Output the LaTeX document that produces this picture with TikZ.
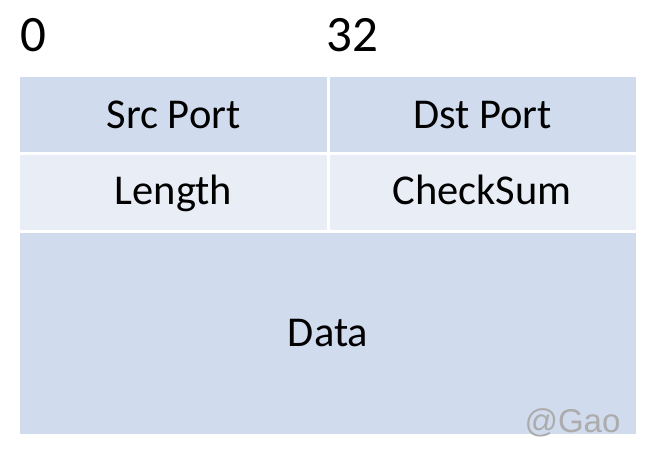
\documentclass[tikz,border=0pt]{standalone}
\usepackage{fontspec}
\setmainfont{Carlito}
\newfontfamily\wmfont{Liberation Sans}
\definecolor{cellA}{RGB}{208,219,238}
\definecolor{cellB}{RGB}{233,238,246}
\definecolor{wmgray}{RGB}{172,172,172}
\begin{document}
\begin{tikzpicture}[x=1pt,y=-1pt,
  cell/.style={draw=none,inner sep=0pt,font=\fontsize{42.5}{50}\selectfont},
  lbl/.style={inner sep=0pt,anchor=base west,font=\fontsize{51}{60}\selectfont}]
\useasboundingbox (0,0) rectangle (661,465);
\fill[cellA] (20,77) rectangle (327,152);
\fill[cellA] (330,77) rectangle (636,152);
\fill[cellB] (20,155) rectangle (327,229.5);
\fill[cellB] (330,155) rectangle (636,229.5);
\fill[cellA] (20,232.5) rectangle (636,433.5);
\node[lbl] (n0) at (20.5,52) {0};
\node[lbl] (n32) at (326.5,52) {32};
\node[cell,anchor=base] (src) at (173.5,128.5) {Src Port};
\node[cell,anchor=base] (dst) at (482.5,128.5) {Dst Port};
\node[cell,anchor=base] (len) at (173.5,204.5) {Length};
\node[cell,anchor=base] (chk) at (482,204.5) {CheckSum};
\node[cell,anchor=base] (dat) at (328,346) {Data};
\node[inner sep=0pt,anchor=base,text=wmgray,font=\wmfont\fontsize{33}{40}\selectfont] (wm) at (572.5,432) {@Gao};
\end{tikzpicture}
\end{document}
